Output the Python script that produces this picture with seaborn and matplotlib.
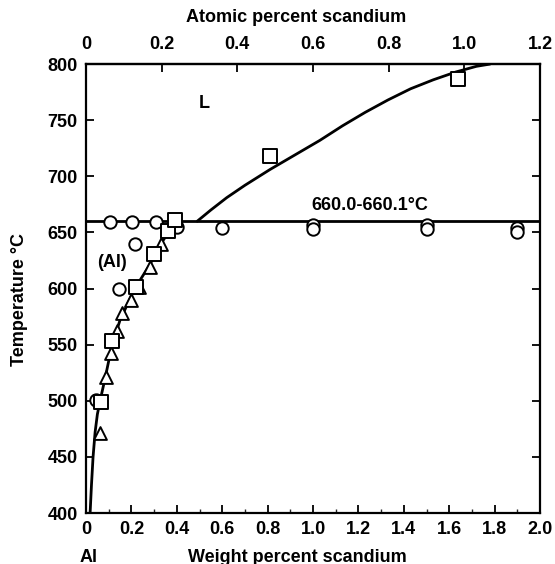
import numpy as np
import pandas as pd
import matplotlib
matplotlib.use('Agg')
import matplotlib.pyplot as plt
import seaborn as sns

circle_wt = [0.106, 0.203, 0.31, 0.40, 0.216, 0.145, 0.044, 0.60, 1.00, 1.00, 1.50, 1.50, 1.90, 1.90]
circle_T = [659, 659, 659, 655, 640, 600, 501, 654, 657, 653, 657, 653, 654, 650]

square_wt = [0.065, 0.115, 0.22, 0.30, 0.36, 0.39, 0.81, 1.64]
square_T = [499, 553, 601, 631, 651, 661, 718, 787]

triangle_wt = [0.06, 0.09, 0.11, 0.135, 0.16, 0.20, 0.235, 0.28, 0.33]
triangle_T = [471, 521, 543, 562, 578, 590, 601, 619, 640]

# solvus and liquidus lines
solvus_wt = [0.018, 0.024, 0.031, 0.040, 0.050, 0.062, 0.085, 0.115, 0.15, 0.215, 0.28, 0.33, 0.37, 0.40]
solvus_T = [400, 425, 450, 472, 488, 500, 521, 550, 572, 600, 621, 640, 652, 660]

liquidus_wt = [0.49, 0.55, 0.62, 0.70, 0.81, 0.92, 1.03, 1.13, 1.23, 1.33, 1.43, 1.53, 1.63, 1.72, 1.78]
liquidus_T = [660, 670, 681, 692, 706, 719, 732, 745, 757, 768, 778, 786, 793, 798, 800]

eutectic_wt = [0.0, 2.0]
eutectic_T = [660, 660]

wt_ticks = [0, 0.2, 0.4, 0.6, 0.8, 1.0, 1.2, 1.4, 1.6, 1.8, 2.0]
wt_labels = ['0', '0.2', '0.4', '0.6', '0.8', '1.0', '1.2', '1.4', '1.6', '1.8', '2.0']
at_ticks = [0, 0.2, 0.4, 0.6, 0.8, 1.0, 1.2]
at_labels = ['0', '0.2', '0.4', '0.6', '0.8', '1.0', '1.2']
T_ticks = [400, 450, 500, 550, 600, 650, 700, 750, 800]

sns.set_theme(style='ticks')
plt.rcParams['font.family'] = ['Liberation Sans', 'DejaVu Sans']
plt.rcParams['font.weight'] = 'bold'
plt.rcParams['text.color'] = 'black'
plt.rcParams['axes.linewidth'] = 1.6

fig = plt.figure(figsize=(5.55, 5.64), dpi=100)
ax = fig.add_axes([0.155, 0.0904, 0.818, 0.796])

lw = 2.0
sns.lineplot(x=solvus_wt, y=solvus_T, sort=False, color='black', lw=lw, ax=ax)
sns.lineplot(x=liquidus_wt, y=liquidus_T, sort=False, color='black', lw=lw, ax=ax)
sns.lineplot(x=eutectic_wt, y=eutectic_T, sort=False, color='black', lw=lw, ax=ax)

mk = dict(facecolor='white', edgecolor='black', linewidth=1.4, zorder=5, ax=ax, legend=False)
sns.scatterplot(x=triangle_wt, y=triangle_T, marker='^', s=85, **mk)
sns.scatterplot(x=circle_wt, y=circle_T, marker='o', s=80, **mk)
sns.scatterplot(x=square_wt, y=square_T, marker='s', s=90, **mk)

ax.set_xlim(0, 2.0)
ax.set_ylim(400, 800)
ax.set_xticks(wt_ticks)
ax.set_xticklabels(wt_labels)
ax.set_yticks(T_ticks)
ax.set_xticks(np.arange(0.1, 2.0, 0.2), minor=True)
ax.tick_params(axis='both', which='major', direction='in', length=6, width=1.3,
               labelsize=13, top=False, right=True, pad=6, colors='black')
ax.tick_params(axis='x', which='minor', direction='in', length=3, width=1.0, top=False)
for s in ax.spines.values():
    s.set_visible(True)
    s.set_color('black')

sec = ax.secondary_xaxis('top', functions=(lambda w: w * 0.6, lambda a: a / 0.6))
sec.set_xticks(at_ticks)
sec.set_xticklabels(at_labels)
sec.tick_params(direction='in', length=6, width=1.3, labelsize=13, pad=8, colors='black')

ax.text(0.52, 765, 'L', fontsize=13, ha='center', va='center', color='black')
ax.text(0.115, 623, '(Al)', fontsize=13, ha='center', va='center', color='black')
ax.text(1.25, 666, '660.0-660.1\u00b0C', fontsize=13, ha='center', va='bottom', color='black')

fig.text(297 / 555, 1 - 557 / 564, 'Weight percent scandium', fontsize=13, ha='center', va='center', color='black')
fig.text(89 / 555, 1 - 557 / 564, 'Al', fontsize=13, ha='center', va='center', color='black')
fig.text(296 / 555, 1 - 18 / 564, 'Atomic percent scandium', fontsize=13, ha='center', va='center', color='black')
fig.text(20 / 555, 1 - 300 / 564, 'Temperature \u00b0C', fontsize=13, ha='center', va='center',
         rotation=90, color='black')

fig.savefig('out.png', dpi=100, facecolor='white')
